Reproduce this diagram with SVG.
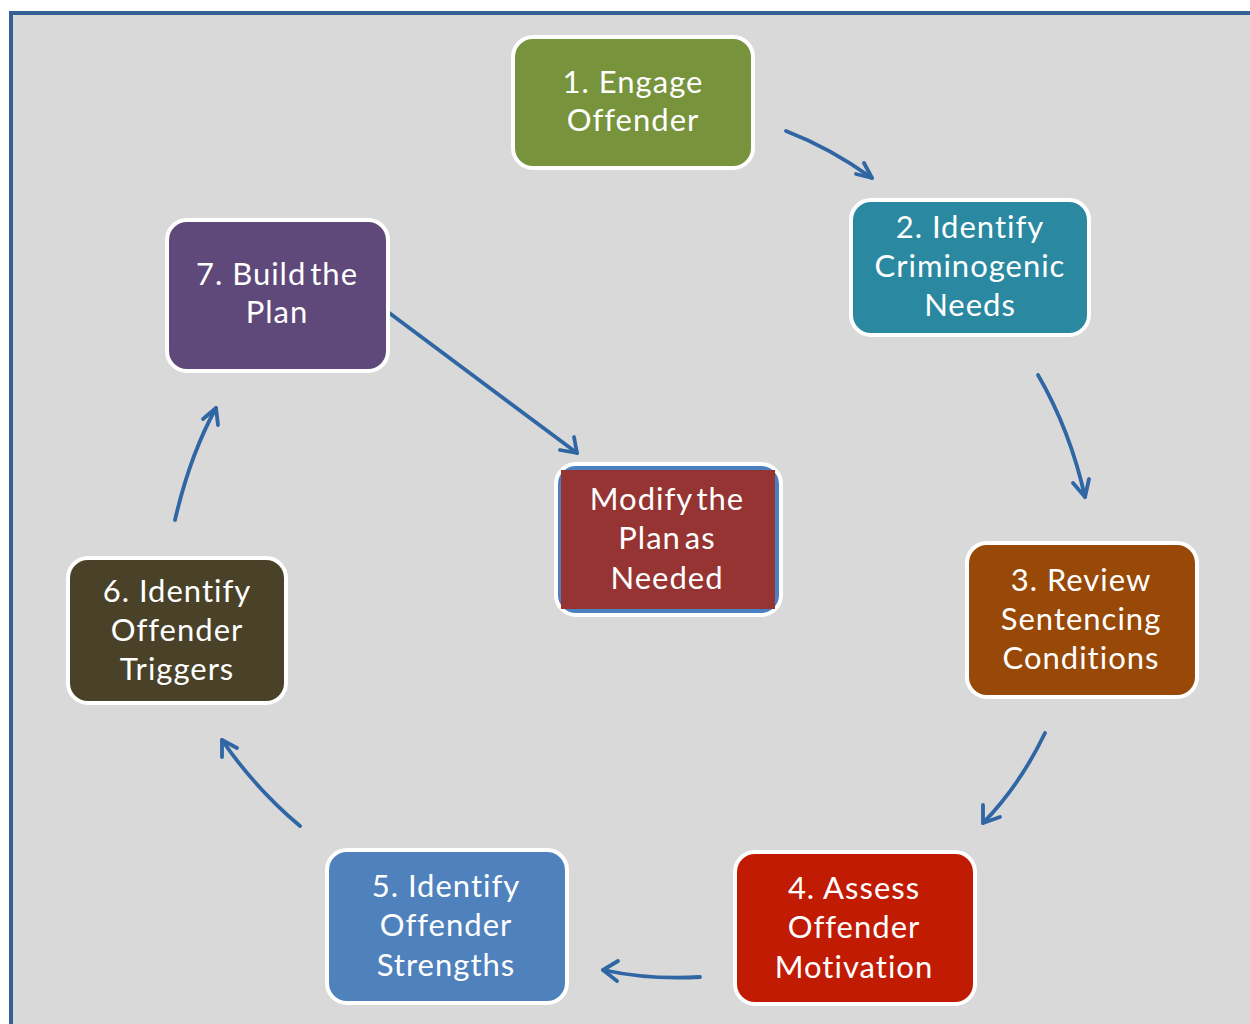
<svg xmlns="http://www.w3.org/2000/svg" width="1250" height="1024" viewBox="0 0 1250 1024">
<defs>
<style>
.box{stroke:#ffffff;stroke-width:4}
.t{font-family:Lato,"Open Sans","Liberation Sans",sans-serif;font-size:31px;letter-spacing:1px;fill:#ffffff;text-anchor:middle}
.tight{word-spacing:-5px}
.c{fill:none;stroke:#2f66a3;stroke-width:3.8;stroke-linecap:round;stroke-linejoin:round}
</style>
</defs>
<rect x="0" y="0" width="1250" height="1024" fill="#ffffff"/>
<rect x="11" y="13" width="1250" height="1030" fill="#d9d9d9" stroke="#376097" stroke-width="4"/>
<g id="connectors">
<path class="c" d="M786,131 Q830,148 872,178"/>
<path class="c" d="M856,174 L872,178 L864,163"/>
<path class="c" d="M1038,375 Q1070,430 1085,497"/>
<path class="c" d="M1073,483 L1085,497 L1089,479"/>
<path class="c" d="M1045,733 Q1020,785 983,823"/>
<path class="c" d="M983,805 L983,823 L1000,817"/>
<path class="c" d="M700,977 Q650,980 603,970"/>
<path class="c" d="M618,961 L603,970 L617,981"/>
<path class="c" d="M300,826 Q255,788 222,740"/>
<path class="c" d="M222,757 L222,740 L237,748"/>
<path class="c" d="M175,520 Q190,455 216,408"/>
<path class="c" d="M203,419 L216,408 L218,425"/>
<path class="c" d="M388,312 L577,453"/>
<path class="c" d="M560,450 L577,453 L574,437"/>
</g>
<g id="n1">
<rect class="box" x="513" y="37" width="240" height="131" rx="20" fill="#77933c"/>
<text class="t" x="633" y="93">1. Engage</text>
<text class="t" x="633" y="131">Offender</text>
</g>
<g id="n2">
<rect class="box" x="851" y="200" width="238" height="135" rx="20" fill="#2a89a1"/>
<text class="t" x="970" y="238">2. Identify</text>
<text class="t" x="970" y="277">Criminogenic</text>
<text class="t" x="970" y="316">Needs</text>
</g>
<g id="n3">
<rect class="box" x="967" y="543" width="230" height="154" rx="20" fill="#984807"/>
<text class="t" x="1081" y="591">3. Review</text>
<text class="t" x="1081" y="630">Sentencing</text>
<text class="t" x="1081" y="669">Conditions</text>
</g>
<g id="n4">
<rect class="box" x="735" y="852" width="240" height="152" rx="20" fill="#c21b04"/>
<text class="t" x="854" y="899">4. Assess</text>
<text class="t" x="854" y="938">Offender</text>
<text class="t" x="854" y="978">Motivation</text>
</g>
<g id="n5">
<rect class="box" x="327" y="850" width="240" height="153" rx="20" fill="#4f81bd"/>
<text class="t" x="446" y="897">5. Identify</text>
<text class="t" x="446" y="936">Offender</text>
<text class="t" x="446" y="976">Strengths</text>
</g>
<g id="n6">
<rect class="box" x="68" y="558" width="218" height="145" rx="20" fill="#494229"/>
<text class="t" x="177" y="602">6. Identify</text>
<text class="t" x="177" y="641">Offender</text>
<text class="t" x="177" y="680">Triggers</text>
</g>
<g id="n7">
<rect class="box" x="167" y="220" width="221" height="151" rx="20" fill="#5f497a"/>
<text class="t" x="277" y="285">7. Build<tspan class="tight"> the</tspan></text>
<text class="t" x="277" y="323">Plan</text>
</g>
<g id="modify">
<rect class="box" x="556" y="464" width="225" height="151" rx="20" fill="#4a7fc0"/>
<rect x="561" y="470" width="214" height="139" fill="#953432"/>
<text class="t tight" x="667" y="510">Modify the</text>
<text class="t tight" x="667" y="549">Plan as</text>
<text class="t" x="667" y="589">Needed</text>
</g>
</svg>
